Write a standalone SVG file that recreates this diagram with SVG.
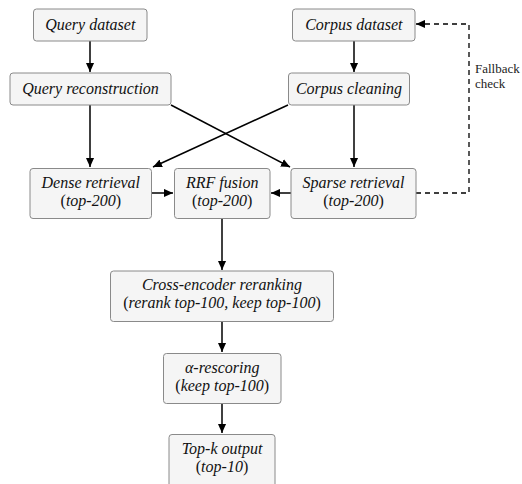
<svg xmlns="http://www.w3.org/2000/svg" width="522" height="484" viewBox="0 0 522 484">
<style>
.box{fill:#f5f5f5;stroke:#8a8a8a;stroke-width:1}
text{font-family:'Liberation Serif','Times New Roman',serif}
.t{font-size:16px;font-style:italic;fill:#111;text-anchor:middle}
.n{font-style:normal}
.e{fill:none;stroke:#000;stroke-width:1.5}
.d{fill:none;stroke:#000;stroke-width:1.3;stroke-dasharray:5,4}
.lab{font-size:13px;fill:#222}
</style>
<defs>
<marker id="ah" viewBox="0 0 10 10" refX="10" refY="5" markerWidth="9" markerHeight="9" markerUnits="userSpaceOnUse" orient="auto"><path d="M0,0.5 L10,5 L0,9.5 z" fill="#000"/></marker>
</defs>
<rect width="522" height="484" fill="#fff"/>
<g id="connectors">
<line class="e" x1="90" y1="41" x2="90" y2="72" marker-end="url(#ah)"/>
<line class="e" x1="354" y1="41" x2="354" y2="72" marker-end="url(#ah)"/>
<line class="e" x1="90" y1="105" x2="90" y2="167" marker-end="url(#ah)"/>
<line class="e" x1="354" y1="105" x2="354" y2="167" marker-end="url(#ah)"/>
<line class="e" x1="171" y1="105" x2="290" y2="167" marker-end="url(#ah)"/>
<line class="e" x1="288" y1="105" x2="153" y2="167" marker-end="url(#ah)"/>
<line class="e" x1="152" y1="193" x2="173" y2="193" marker-end="url(#ah)"/>
<line class="e" x1="291" y1="193" x2="271" y2="193" marker-end="url(#ah)"/>
<line class="e" x1="222" y1="218" x2="222" y2="270" marker-end="url(#ah)"/>
<line class="e" x1="222" y1="322" x2="222" y2="352" marker-end="url(#ah)"/>
<line class="e" x1="222" y1="404" x2="222" y2="433" marker-end="url(#ah)"/>
<polyline class="d" points="416,193 469,193 469,24 416,24" marker-end="url(#ah)"/>
<text class="lab" x="475" y="73">Fallback</text>
<text class="lab" x="475" y="88">check</text>
</g>
<g id="query-dataset"><rect class="box" x="33.5" y="9" width="113.5" height="32" rx="3"/><text class="t" x="90.3" y="29.5">Query dataset</text></g>
<g id="corpus-dataset"><rect class="box" x="292.5" y="9" width="122.5" height="32" rx="3"/><text class="t" x="353.8" y="29.5">Corpus dataset</text></g>
<g id="query-reconstruction"><rect class="box" x="10" y="73" width="161" height="32" rx="3"/><text class="t" x="90.5" y="93.5">Query reconstruction</text></g>
<g id="corpus-cleaning"><rect class="box" x="288.5" y="73" width="121" height="32" rx="3"/><text class="t" x="349" y="93.5">Corpus cleaning</text></g>
<g id="dense-retrieval"><rect class="box" x="30" y="168.5" width="121.5" height="50" rx="3"/><text class="t" x="90.8" y="187.5">Dense retrieval</text><text class="t" x="90.8" y="205.5"><tspan class="n">(</tspan>top-200<tspan class="n">)</tspan></text></g>
<g id="rrf-fusion"><rect class="box" x="174.5" y="168.5" width="95.5" height="50" rx="3"/><text class="t" x="222.2" y="187.5">RRF fusion</text><text class="t" x="222.2" y="205.5"><tspan class="n">(</tspan>top-200<tspan class="n">)</tspan></text></g>
<g id="sparse-retrieval"><rect class="box" x="291" y="168.5" width="125" height="50" rx="3"/><text class="t" x="353.5" y="187.5">Sparse retrieval</text><text class="t" x="353.5" y="205.5"><tspan class="n">(</tspan>top-200<tspan class="n">)</tspan></text></g>
<g id="cross-encoder"><rect class="box" x="110.5" y="271" width="223" height="50.5" rx="3"/><text class="t" x="222" y="290">Cross-encoder reranking</text><text class="t" x="222" y="308"><tspan class="n">(</tspan>rerank top-100, keep top-100<tspan class="n">)</tspan></text></g>
<g id="alpha-rescoring"><rect class="box" x="163.5" y="353.5" width="117.5" height="50" rx="3"/><text class="t" x="222.2" y="372.5">α-rescoring</text><text class="t" x="222.2" y="390.5"><tspan class="n">(</tspan>keep top-100<tspan class="n">)</tspan></text></g>
<g id="top-k-output"><rect class="box" x="169" y="434.5" width="106" height="55" rx="3"/><text class="t" x="222" y="453.5">Top-k output</text><text class="t" x="222" y="471.5"><tspan class="n">(</tspan>top-10<tspan class="n">)</tspan></text></g>
</svg>
